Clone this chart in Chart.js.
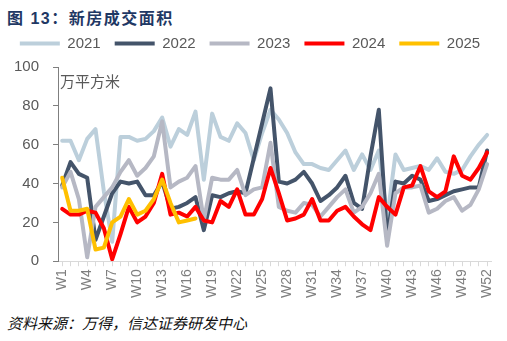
<!DOCTYPE html>
<html><head><meta charset="utf-8">
<script src="https://cdn.jsdelivr.net/npm/chart.js@4.4.1/dist/chart.umd.min.js"></script>
<style>
html,body{margin:0;padding:0;background:#fff}
body{width:507px;height:341px;overflow:hidden;position:relative;font-family:"Liberation Sans",Arial,sans-serif}
#title{position:absolute;left:7px;top:5px;font-size:16px;font-weight:bold;color:#1f3864;font-family:"Liberation Sans","Noto Sans CJK SC",sans-serif;letter-spacing:1.5px;white-space:nowrap}
#wrap{position:absolute;left:0;top:22px;width:507px;height:279px}
#unit{position:absolute;left:60px;top:70px;font-size:15px;color:#595959;font-family:"Noto Sans CJK SC",sans-serif;white-space:nowrap}
#src{position:absolute;left:7px;top:312px;font-size:15px;font-style:italic;color:#111;font-family:"Noto Sans CJK SC",sans-serif;white-space:nowrap}
</style></head>
<body>
<div id="title">图 13：新房成交面积</div>
<div id="wrap"><canvas id="c"></canvas></div>
<div id="unit">万平方米</div>
<div id="src">资料来源：万得，信达证券研发中心</div>
<script>
const weeks = ['W1','W2','W3','W4','W5','W6','W7','W8','W9','W10','W11','W12','W13','W14','W15','W16','W17','W18','W19','W20','W21','W22','W23','W24','W25','W26','W27','W28','W29','W30','W31','W32','W33','W34','W35','W36','W37','W38','W39','W40','W41','W42','W43','W44','W45','W46','W47','W48','W49','W50','W51','W52'];
const shownTicks = ['W1','W4','W7','W10','W13','W16','W19','W22','W25','W28','W31','W34','W37','W40','W43','W46','W49','W52'];
const seriesNames = ['2021','2022','2023','2024','2025'];
const s2021 = [62,62,52,63,68,36,10,64,64,62,63,67,74,59,68,65,77,42,76,64,62,71,66,52,66,78,73,66,56,50,50,48,47,52,57,47,55,47,57,22,55,47,48,49,47,53,46,45,47,54,60,65];
const s2022 = [39,51,45,43,11,23,35,41,40,41,34,34,41,27,28,30,33,16,34,33,35,36,35,53,71,89,41,40,42,46,40,31,34,38,44,30,27,54,78,12,41,40,44,42,31,32,34,36,37,38,38,57];
const s2023 = [38,46,32,2,28,33,38,46,52,44,48,54,72,38,41,43,49,21,43,42,42,47,34,37,38,61,28,26,25,30,29,23,28,33,37,25,28,35,45,8,35,38,38,39,25,27,31,33,26,29,37,50];
const s2024 = [27,24,24,26,25,17,1,14,28,20,23,30,45,24,25,23,28,21,20,31,28,37,24,24,32,48,35,21,22,24,32,21,21,26,28,23,19,16,33,28,24,38,39,49,36,33,36,54,44,42,48,56];
const s2025 = [43,26,26,27,6,7,20,23,32,24,26,32,42,30,20,21,22];
const colors = ['#bccfdb','#44546a','#b6b8c4','#ff0000','#ffc000'];
const values = [s2021,s2022,s2023,s2024,s2025];

const legendMargin = {id:'legendMargin', beforeInit(chart){
  const fit = chart.legend.fit;
  chart.legend.fit = function(){
    const mw = this.maxWidth;
    this.maxWidth = mw + 80;
    fit.call(this);
    this.maxWidth = mw;
    this.width = mw;
    this.height += 6;
    if (this.lineWidths && this.lineWidths.length) this.lineWidths[0] -= 3;
  };
}};

new Chart(document.getElementById('c'), {
  type:'line',
  data:{
    labels:weeks,
    datasets:seriesNames.map((n,i)=>({label:n,data:values[i],borderColor:colors[i],backgroundColor:colors[i],order:5-i}))
  },
  options:{
    responsive:true, maintainAspectRatio:false, animation:false,
    layout:{padding:{left:0,right:10,top:0,bottom:0}},
    elements:{line:{tension:0,borderWidth:4,borderCapStyle:'round',borderJoinStyle:'round',fill:false},point:{radius:0,hoverRadius:0}},
    plugins:{
      tooltip:{enabled:false},
      legend:{position:'top',labels:{
        boxWidth:40,boxHeight:4,padding:14,color:'#595959',font:{size:15,family:'"Liberation Sans", Arial, sans-serif'},
        sort:(a,b)=>a.datasetIndex-b.datasetIndex,
        generateLabels(chart){
          return chart.data.datasets.map((d,i)=>({text:d.label,fillStyle:d.borderColor,strokeStyle:d.borderColor,lineWidth:0,datasetIndex:i,hidden:false,fontColor:'#595959'}));
        }
      }}
    },
    scales:{
      x:{
        offset:true,
        grid:{drawOnChartArea:false,drawTicks:true,tickLength:5,color:'#d9d9d9',offset:false},
        border:{display:true,color:'#d9d9d9',width:1},
        ticks:{autoSkip:false,maxRotation:90,minRotation:90,padding:3,color:'#7f7f7f',font:{size:14,family:'"Liberation Sans", Arial, sans-serif'},
          callback(v,i){ const l = weeks[i]; return shownTicks.includes(l) ? l : ''; }}
      },
      y:{
        min:0,max:100,
        grid:{drawOnChartArea:false,drawTicks:true,tickLength:5,color:'#7f7f7f'},
        border:{display:true,color:'#7f7f7f',width:1},
        ticks:{stepSize:20,padding:14,color:'#595959',font:{size:15,family:'"Liberation Sans", Arial, sans-serif'}}
      }
    }
  },
  plugins:[legendMargin]
});
</script>
</body></html>
